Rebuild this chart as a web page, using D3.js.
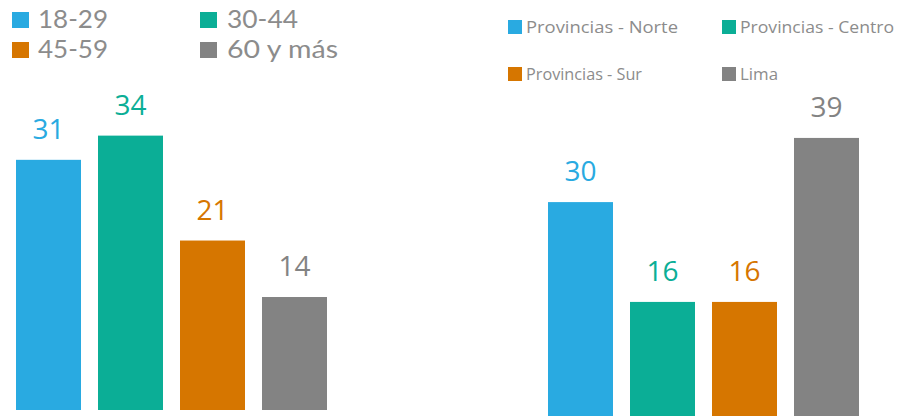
<!DOCTYPE html>
<html><head><meta charset="utf-8">
<script src="https://cdn.jsdelivr.net/npm/d3@7"></script>
<style>body{margin:0;background:#fff}svg{display:block}</style>
</head><body>
<svg id="c" width="905" height="418"></svg>
<script>
const ageCategories = ["18-29", "30-44", "45-59", "60 y más"];
const ageValues = [31, 34, 21, 14];
const regionCategories = ["Provincias - Norte", "Provincias - Centro", "Provincias - Sur", "Lima"];
const regionValues = [30, 16, 16, 39];
const colors = ["#29AAE1", "#0BAE96", "#D67600", "#838383"];
const textGray = "#8C8C8C";
const font = "'Open Sans', 'Noto Sans', sans-serif";

const svg = d3.select("#c");

function panel(cats, vals, x0, x1, yBottom, pxPerUnit) {
  const x = d3.scaleBand().domain(cats).range([x0, x1]).paddingInner(17/82).paddingOuter(0);
  const y = d3.scaleLinear().domain([0, 40]).range([yBottom, yBottom - 40 * pxPerUnit]);
  const g = svg.append("g");
  const data = cats.map((c, i) => ({c, v: vals[i], col: colors[i]}));
  g.selectAll("rect").data(data).join("rect")
    .attr("x", d => x(d.c)).attr("width", x.bandwidth())
    .attr("y", d => y(d.v)).attr("height", d => y(0) - y(d.v))
    .attr("fill", d => d.col);
  g.selectAll("text").data(data).join("text")
    .attr("x", d => x(d.c) + x.bandwidth() / 2)
    .attr("y", d => y(d.v) - 21)
    .attr("text-anchor", "middle")
    .attr("font-family", font).attr("font-size", 28)
    .attr("fill", d => d.col)
    .text(d => d.v);
}
panel(ageCategories, ageValues, 16, 327, 410, 8.07);
panel(regionCategories, regionValues, 548, 859, 416, 7.13);

// left legend
const legL = [
  {x: 12, y: 12, tx: 38, w: 70}, {x: 200, y: 12, tx: 227, w: 71},
  {x: 12, y: 42, tx: 38, w: 70}, {x: 200, y: 42, tx: 227, w: 111}
];
legL.forEach((p, i) => {
  svg.append("rect").attr("x", p.x).attr("y", p.y).attr("width", 17).attr("height", 16).attr("fill", colors[i]);
  svg.append("text").attr("x", p.tx).attr("y", p.y + 16)
    .attr("font-family", "Lato, 'Open Sans', sans-serif").attr("font-size", 24.5).attr("fill", textGray)
    .attr("textLength", p.w).attr("lengthAdjust", "spacingAndGlyphs")
    .text(ageCategories[i]);
});
// right legend
const legR = [
  {x: 508, y: 20, tx: 526, w: 152}, {x: 722, y: 20, tx: 740, w: 154},
  {x: 508, y: 67, tx: 526, w: 116}, {x: 722, y: 67, tx: 740, w: 38}
];
legR.forEach((p, i) => {
  svg.append("rect").attr("x", p.x).attr("y", p.y).attr("width", 14).attr("height", 14).attr("fill", colors[i]);
  svg.append("text").attr("x", p.tx).attr("y", p.y + 13)
    .attr("font-family", font).attr("font-size", 17).attr("fill", textGray)
    .attr("textLength", p.w).attr("lengthAdjust", "spacingAndGlyphs")
    .text(regionCategories[i]);
});
</script>
</body></html>
